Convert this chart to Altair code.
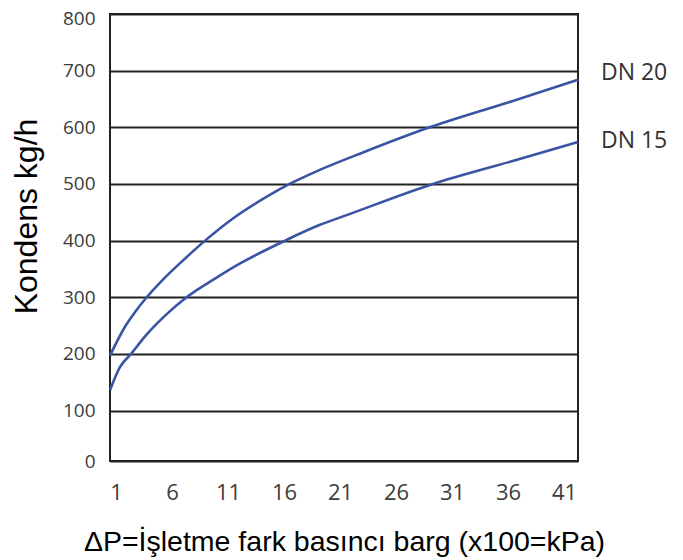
import altair as alt
import pandas as pd

# DN 20 curve (pressure in barg, condensate kg/h)
dn20_x = [0.46, 1.8, 2.7, 3.74, 5.08, 6.87, 8.95, 11.5, 14.5, 16.5, 19.1, 23.1, 29.0, 36.5, 42.25]
dn20_y = [197, 248, 274, 300, 329, 363, 400, 440, 478, 500, 524, 556, 600, 647, 684]

# DN 15 curve
dn15_x = [0.46, 1.36, 2.34, 3.59, 5.4, 7.3, 9.84, 12.2, 16.1, 19.1, 21.6, 29.3, 36.5, 42.25]
dn15_y = [136, 177, 200, 231, 268, 300, 333, 361, 400, 427, 445, 500, 541, 574]

x_ticks = [1, 6, 11, 16, 21, 26, 31, 36, 41]
y_ticks = [11, 100, 200, 300, 400, 500, 600, 700, 800]

series_labels = ["DN 20", "DN 15"]
label_x = [44.3, 44.3]
label_y = [696, 575]

x_title = "ΔP=İşletme fark basıncı barg (x100=kPa)"
y_title = "Kondens kg/h"

df = pd.concat([
    pd.DataFrame({"p": dn20_x, "q": dn20_y, "series": "DN 20"}),
    pd.DataFrame({"p": dn15_x, "q": dn15_y, "series": "DN 15"}),
])
lab = pd.DataFrame({"p": label_x, "q": label_y, "t": series_labels})

xscale = alt.Scale(domain=[0.46, 42.25], nice=False, zero=False)
yscale = alt.Scale(domain=[11, 800], nice=False, zero=False)

lines = alt.Chart(df).mark_line(
    color="#3A54A4", strokeWidth=2.6, interpolate="monotone"
).encode(
    x=alt.X("p:Q", scale=xscale, axis=alt.Axis(
        values=x_ticks, grid=False, ticks=False, domain=False,
        labelFont="Open Sans", labelFontSize=22, labelColor="#3c3c3c",
        labelPadding=21,
        title=x_title, titleFont="Liberation Sans", titleFontSize=28.5,
        titleFontWeight="normal", titleColor="#000000",
        titleX=234, titleY=89, titleAlign="center", titleBaseline="alphabetic",
    )),
    y=alt.Y("q:Q", scale=yscale, axis=alt.Axis(
        values=y_ticks, grid=True, gridColor="#222222", gridWidth=2,
        gridOpacity=1, ticks=False, domain=False,
        labelFont="Open Sans", labelFontSize=19, labelColor="#3c3c3c",
        labelPadding=15, labelBaseline="middle",
        labelOffset={"condition": {"test": "datum.value > 790", "value": 4}, "value": 0},
        labelExpr="datum.value < 50 ? '0' : datum.label",
        title=y_title, titleFont="Liberation Sans", titleFontSize=32,
        titleFontWeight="normal", titleColor="#000000",
        titleAngle=270, titleX=-84, titleY=202, titleAlign="center",
        titleBaseline="middle",
    )),
    detail="series:N",
)

labels = alt.Chart(lab).mark_text(
    align="left", baseline="middle", font="Open Sans", fontSize=23, color="#333333"
).encode(
    x=alt.X("p:Q", scale=xscale),
    y=alt.Y("q:Q", scale=yscale),
    text="t:N",
)

chart = alt.layer(lines, labels).properties(
    width=468, height=447,
    autosize=alt.AutoSizeParams(type="none"),
    padding={"left": 102, "top": 6, "right": 97, "bottom": 97},
    background="white",
).configure_view(stroke="#222222", strokeWidth=2)

chart.save("out.html", embed_options={"renderer": "svg", "actions": False})
